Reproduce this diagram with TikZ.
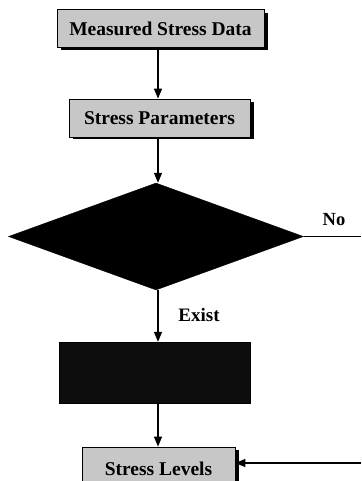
\documentclass[tikz,border=0pt]{standalone}
\usepackage{fontspec}
\setmainfont{Liberation Serif}
\usetikzlibrary{shapes.geometric,arrows.meta}
\tikzset{
  procbox/.style={draw=black, line width=0.8pt, fill=black!22, inner sep=0pt,
    font=\fontsize{19.5}{21}\selectfont\bfseries, text=black},
  flow/.style={line width=1.3pt, -{Triangle[length=10pt,width=8pt]}},
  plain/.style={line width=1.3pt},
  lbl/.style={font=\fontsize{19}{21}\selectfont\bfseries, inner sep=0pt}
}
\begin{document}
\begin{tikzpicture}[x=1pt,y=-1pt]
\useasboundingbox (0,0) rectangle (361,481);
\clip (0,0) rectangle (361,481);
% shadows
\fill[black] (60.5,13) rectangle (267.5,50.5);
\fill[black] (72.5,102) rectangle (253.5,139.5);
\fill[black] (85.5,450) rectangle (238.5,492);
% nodes
\node[procbox, minimum width=207pt, minimum height=38pt] (m) at (160.5,28.5) {Measured Stress Data};
\node[procbox, minimum width=181pt, minimum height=38pt] (p) at (159.5,118) {Stress Parameters};
\node[diamond, draw=black, fill=black, inner sep=0pt, minimum width=295pt, minimum height=107pt] (d) at (156,236.5) {};
\node[draw=black, fill=black!95, inner sep=0pt, minimum width=191pt, minimum height=61pt] (b) at (154.5,372.5) {};
\node[procbox, minimum width=153pt, minimum height=43pt, text depth=0pt] (l) at (158.5,468.5) {Stress Levels};
\coordinate (noend) at (361,236.5);
\coordinate (backstart) at (361,463);
% connectors
\draw[flow] (m.south -| 158,0) -- (p.north -| 158,0);
\draw[flow] (p.south -| 158,0) -- (d.north -| 158,0);
\draw[plain] (d.east) -- (noend);
\draw[flow] (d.south -| 158,0) -- (b.north -| 158,0);
\draw[flow] (b.south -| 158,0) -- (l.north -| 158,0);
\draw[flow] (backstart) -- (backstart -| l.east);
% labels
\node[lbl, font=\fontsize{18.5}{20}\selectfont\bfseries] (no) at (334,220) {No};
\node[lbl] (ex) at (199,315) {Exist};
\end{tikzpicture}
\end{document}
